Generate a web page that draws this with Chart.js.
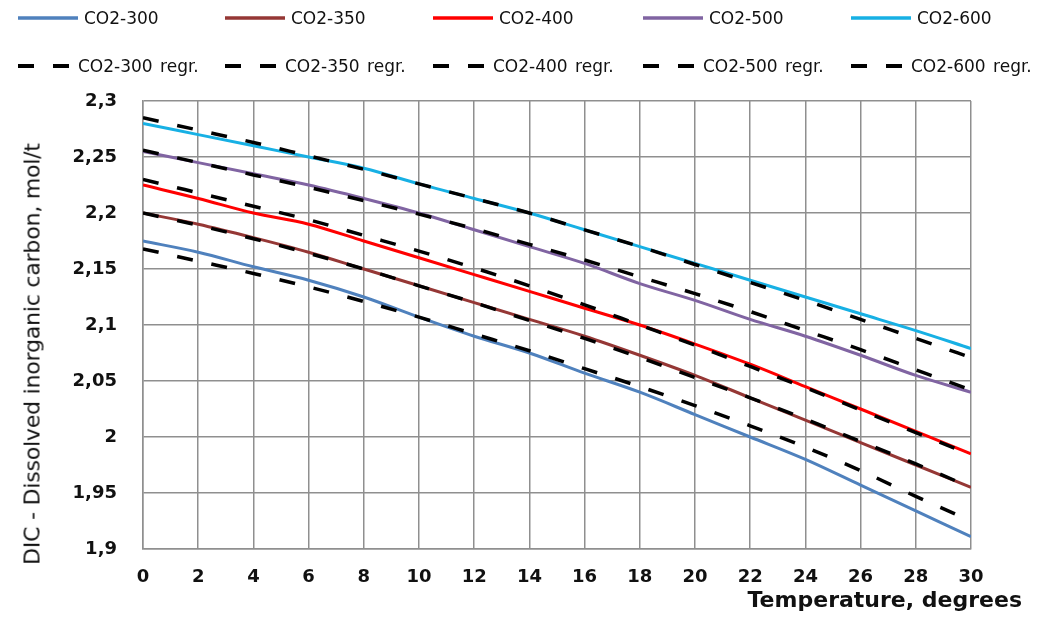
<!DOCTYPE html>
<html>
<head>
<meta charset="utf-8">
<script src="https://cdn.jsdelivr.net/npm/chart.js@4.4.1/dist/chart.umd.min.js"></script>
<style>
    body { margin: 0; background: #fff; }
    #wrap { position: relative; width: 1055px; height: 617px; font-family: "DejaVu Sans", sans-serif; }
    #chart { position: absolute; left: 0; top: 0; }
    .leg { position: absolute; height: 20px; display: flex; align-items: center; font-size: 17px; color: #111; white-space: nowrap; }
    .leg svg { margin-right: 6px; }
    .leg.r2 { word-spacing: 2px; }
    #ytitle { position: absolute; left: 32px; top: 354px; transform: translate(-50%, -50%) rotate(-90deg); font-size: 22px; letter-spacing: -0.2px; white-space: nowrap; color: #111; }
    #xtitle { position: absolute; right: 33px; top: 587px; font-size: 22px; font-weight: bold; color: #111; white-space: nowrap; }
</style>
</head>
<body>
<div id="wrap">
    <canvas id="chart" width="1055" height="617"></canvas>
    <div id="ytitle">DIC - Dissolved inorganic carbon, mol/t</div>
    <div id="xtitle">Temperature, degrees</div>
</div>
<script>
// Temperature steps (x) and DIC values
const temps = [0, 2, 4, 6, 8, 10, 12, 14, 16, 18, 20, 22, 24, 26, 28, 30];

const co2_300 = [2.175, 2.165, 2.152, 2.140, 2.125, 2.107, 2.090, 2.075, 2.057, 2.040, 2.020, 2.000, 1.980, 1.957, 1.934, 1.911];
const co2_350 = [2.200, 2.190, 2.178, 2.165, 2.150, 2.135, 2.120, 2.105, 2.090, 2.073, 2.055, 2.035, 2.015, 1.995, 1.975, 1.955];
const co2_400 = [2.225, 2.213, 2.200, 2.190, 2.175, 2.160, 2.145, 2.130, 2.115, 2.100, 2.083, 2.065, 2.045, 2.025, 2.005, 1.985];
const co2_500 = [2.255, 2.245, 2.235, 2.225, 2.213, 2.200, 2.185, 2.170, 2.155, 2.137, 2.122, 2.105, 2.090, 2.073, 2.055, 2.040];
const co2_600 = [2.280, 2.270, 2.260, 2.250, 2.240, 2.226, 2.213, 2.200, 2.185, 2.170, 2.155, 2.140, 2.125, 2.110, 2.095, 2.079];

const reg_300 = [2.168, 2.157, 2.146, 2.134, 2.121, 2.107, 2.092, 2.077, 2.061, 2.045, 2.028, 2.010, 1.991, 1.970, 1.947, 1.925];
const reg_350 = [2.200, 2.189, 2.177, 2.164, 2.150, 2.135, 2.120, 2.104, 2.088, 2.071, 2.053, 2.035, 2.016, 1.996, 1.976, 1.955];
const reg_400 = [2.230, 2.218, 2.206, 2.194, 2.180, 2.166, 2.151, 2.135, 2.118, 2.100, 2.082, 2.063, 2.044, 2.024, 2.004, 1.984];
const reg_500 = [2.256, 2.245, 2.234, 2.223, 2.211, 2.199, 2.186, 2.172, 2.158, 2.143, 2.128, 2.112, 2.095, 2.078, 2.060, 2.042];
const reg_600 = [2.285, 2.274, 2.263, 2.251, 2.239, 2.226, 2.213, 2.200, 2.185, 2.170, 2.154, 2.138, 2.122, 2.105, 2.088, 2.071];

const labels = ['CO2-300', 'CO2-350', 'CO2-400', 'CO2-500', 'CO2-600'];
const solidSeries = [co2_300, co2_350, co2_400, co2_500, co2_600];
const regrSeries = [reg_300, reg_350, reg_400, reg_500, reg_600];
const colors = ['#4f81bd', '#953735', '#ff0000', '#8064a2', '#17b0e4'];

const toPoints = arr => arr.map((v, i) => ({ x: temps[i], y: v }));

const datasets = [];
labels.forEach((name, i) => {
    datasets.push({
        label: name, data: toPoints(solidSeries[i]),
        borderColor: colors[i], borderWidth: 3, pointRadius: 0,
        cubicInterpolationMode: 'monotone', order: 1
    });
});
labels.forEach((name, i) => {
    datasets.push({
        label: name + ' regr.', data: toPoints(regrSeries[i]),
        borderColor: '#000', borderWidth: 3.5, borderDash: [16, 19], pointRadius: 0,
        cubicInterpolationMode: 'monotone', order: 0
    });
});

const gridColor = '#8f8f8f';
const tickFont = { family: 'DejaVu Sans', size: 18, weight: 'bold' };

new Chart(document.getElementById('chart'), {
    type: 'line',
    data: { datasets },
    options: {
        responsive: false,
        animation: false,
        layout: { padding: { top: 101, right: 84, left: 0, bottom: 0 } },
        plugins: { legend: { display: false }, tooltip: { enabled: false } },
        scales: {
            x: {
                type: 'linear', min: 0, max: 30,
                ticks: { stepSize: 2, color: '#111', font: tickFont, padding: 18, maxRotation: 0 },
                grid: { color: gridColor, lineWidth: 1.5, drawTicks: false },
                border: { color: gridColor, width: 1.5 },
                afterFit: s => { s.height = 68; }
            },
            y: {
                min: 1.9, max: 2.3,
                ticks: {
                    stepSize: 0.05, color: '#111', font: tickFont, padding: 26,
                    callback: v => String(Math.round(v * 100) / 100).replace('.', ',')
                },
                grid: { color: gridColor, lineWidth: 1.5, drawTicks: false },
                border: { color: gridColor, width: 1.5 },
                afterFit: s => { s.width = 143; }
            }
        }
    }
});

// HTML legend: two rows of five columns
const wrap = document.getElementById('wrap');
const colX = [18, 225, 433, 643, 851];
labels.forEach((name, i) => {
    const a = document.createElement('div');
    a.className = 'leg';
    a.style.left = colX[i] + 'px';
    a.style.top = '8px';
    a.innerHTML = `<svg width="60" height="6"><line x1="0" y1="3" x2="60" y2="3" stroke="${colors[i]}" stroke-width="3.5"/></svg>${name}`;
    wrap.appendChild(a);

    const b = document.createElement('div');
    b.className = 'leg r2';
    b.style.left = colX[i] + 'px';
    b.style.top = '56px';
    b.innerHTML = `<svg width="54" height="6"><line x1="0" y1="3" x2="54" y2="3" stroke="#000" stroke-width="4" stroke-dasharray="16 19"/></svg>${name} regr.`;
    wrap.appendChild(b);
});
</script>
</body>
</html>
